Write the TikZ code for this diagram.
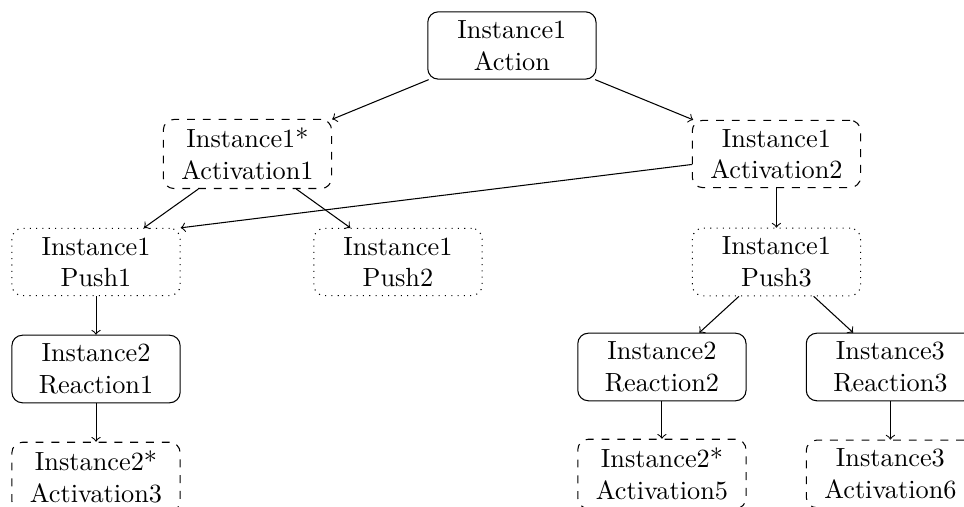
\documentclass[tikz,border=0pt]{standalone}
\usepackage{tikz}
\def\boxw{2.25cm}
\tikzset{state/.style={draw, rounded corners, align=center, minimum width=\boxw, inner sep=3.33pt}}
\tikzset{act/.style={state, dashed}}
\tikzset{push/.style={state, dotted}}
\tikzset{link/.style={->}}

\begin{document}
\begin{tikzpicture}
\useasboundingbox (0,0) rectangle (12.89,-6.77);
\node[state] (action) at (6.845,-0.608) {Instance1\\Action};
\node[act] (act1) at (3.309,-2.059) {Instance1*\\Activation1};
\node[act] (act2) at (10.382,-2.059) {Instance1\\Activation2};
\node[push] (push1) at (1.284,-3.503) {Instance1\\Push1};
\node[push] (push2) at (5.321,-3.503) {Instance1\\Push2};
\node[push] (push3) at (10.382,-3.503) {Instance1\\Push3};
\node[state] (react1) at (1.284,-4.934) {Instance2\\Reaction1};
\node[state] (react2) at (8.851,-4.907) {Instance2\\Reaction2};
\node[state] (react3) at (11.906,-4.907) {Instance3\\Reaction3};
\node[act] (act3) at (1.284,-6.377) {Instance2*\\Activation3};
\node[act] (act5) at (8.851,-6.337) {Instance2*\\Activation5};
\node[act] (act6) at (11.906,-6.337) {Instance3\\Activation6};
\draw[link] (action) -- (act1);
\draw[link] (action) -- (act2);
\draw[link] (act1) -- (push1);
\draw[link] (act1) -- (push2);
\draw[link] (act2) -- (push1.north east);
\draw[link] (act2) -- (push3);
\draw[link] (push1) -- (react1);
\draw[link] (push3) -- (react2);
\draw[link] (push3) -- (react3);
\draw[link] (react1) -- (act3);
\draw[link] (react2) -- (act5);
\draw[link] (react3) -- (act6);
\end{tikzpicture}
\end{document}
